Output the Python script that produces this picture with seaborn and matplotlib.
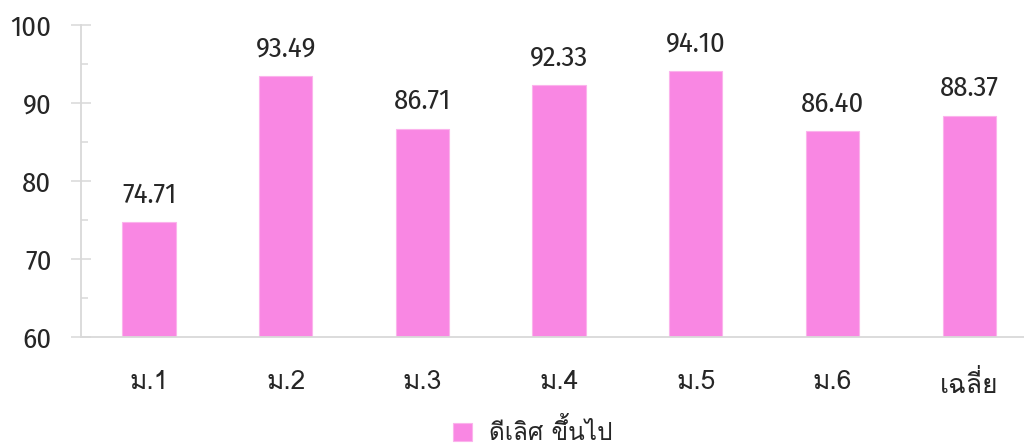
import matplotlib
matplotlib.use('Agg')
import matplotlib.pyplot as plt
from matplotlib.ticker import MultipleLocator
import seaborn as sns
import pandas as pd

grades = ['ม.1', 'ม.2', 'ม.3', 'ม.4', 'ม.5', 'ม.6', 'เฉลี่ย']
scores = [74.71, 93.49, 86.71, 92.33, 94.10, 86.40, 88.37]
series_name = 'ดีเลิศ ขึ้นไป'

sns.set_style('white')
nums = ['Fira Sans Condensed', 'Encode Sans Semi Condensed', 'Noto Sans', 'DejaVu Sans']
thai = ['Loma', 'Noto Sans Thai', 'DejaVu Sans']
plt.rcParams['font.family'] = nums + ['Loma']

pink = '#F987E3'
grid_grey = '#D9D9D9'
text_col = '#262626'

df = pd.DataFrame({'grade': grades, 'score': scores})

fig = plt.figure(figsize=(10.24, 4.45), dpi=100)
ax = fig.add_axes([0.0788, 0.2427, 0.9344, 0.7011])

sns.barplot(data=df, x='grade', y='score', color=pink, width=0.39,
            edgecolor='#FBB3EC', linewidth=0.8, saturation=1,
            label=series_name, ax=ax)

ax.set_ylim(60, 100)
ax.set_xlim(-0.5, len(grades) - 0.5)
ax.yaxis.set_major_locator(MultipleLocator(10))
ax.yaxis.set_minor_locator(MultipleLocator(5))
ax.set_xlabel('')
ax.set_ylabel('')

for side in ['top', 'right']:
    ax.spines[side].set_visible(False)
for side in ['left', 'bottom']:
    ax.spines[side].set_color(grid_grey)
    ax.spines[side].set_linewidth(1.3)

ax.tick_params(axis='y', which='major', direction='inout', length=14,
               width=1.1, color=grid_grey, pad=14, labelsize=20.5,
               labelcolor=text_col, left=True)
ax.tick_params(axis='y', which='minor', direction='in', length=5,
               width=1.1, color=grid_grey, left=True)
ax.tick_params(axis='x', length=0, pad=24)
for lbl in ax.get_yticklabels():
    lbl.set_family(nums)
for lbl in ax.get_xticklabels():
    lbl.set_family(thai)
    lbl.set_fontsize(19)
    lbl.set_color(text_col)

for i, v in enumerate(scores):
    ax.annotate(f'{v:.2f}', (i, v), xytext=(0, 10), textcoords='offset points',
                ha='center', va='bottom', fontsize=20.5, family=nums,
                color=text_col)

leg = ax.legend(loc='lower center', bbox_to_anchor=(0.52, -0.028),
                bbox_transform=fig.transFigure, frameon=False,
                prop={'family': thai, 'size': 17.5}, handlelength=0.8,
                handleheight=0.8, handletextpad=0.7, borderpad=0)
for t in leg.get_texts():
    t.set_color(text_col)

fig.savefig('out.png', dpi=100)
